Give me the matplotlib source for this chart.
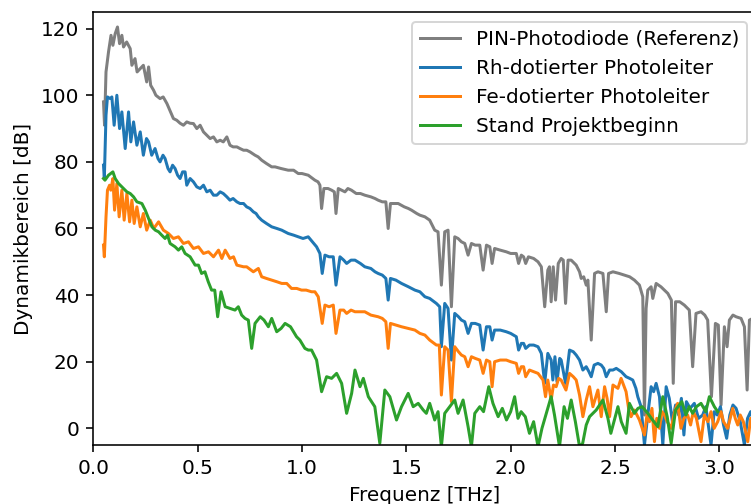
import matplotlib
matplotlib.use("Agg")
import matplotlib.pyplot as plt

# PIN-Photodiode (Referenz)
pin_freq = [0.049, 0.054, 0.061, 0.073, 0.085, 0.094, 0.105, 0.116, 0.126, 0.137,
            0.145, 0.16, 0.177, 0.185, 0.2, 0.21, 0.225, 0.24, 0.256, 0.265,
            0.275, 0.289, 0.30, 0.32, 0.335, 0.353, 0.37, 0.384, 0.40, 0.416,
            0.432, 0.448, 0.464, 0.48, 0.496, 0.512, 0.528, 0.544, 0.56, 0.576,
            0.592, 0.608, 0.623, 0.64, 0.655, 0.67, 0.688, 0.703, 0.72, 0.735,
            0.751, 0.775, 0.79, 0.807, 0.83, 0.855, 0.871, 0.9, 0.934, 0.96,
            0.982, 1.0, 1.03, 1.062, 1.077, 1.086, 1.094, 1.105, 1.125, 1.142,
            1.155, 1.163, 1.174, 1.19, 1.206, 1.22, 1.237, 1.26, 1.28, 1.301,
            1.33, 1.35, 1.365, 1.385, 1.402, 1.413, 1.424, 1.44, 1.461, 1.49,
            1.51, 1.525, 1.55, 1.565, 1.589, 1.612, 1.636, 1.652, 1.668, 1.684,
            1.700, 1.716, 1.732, 1.748, 1.764, 1.78, 1.796, 1.812, 1.83, 1.852,
            1.868, 1.884, 1.9, 1.911, 1.923, 1.95, 1.979, 2.0, 2.027, 2.038,
            2.051, 2.062, 2.072, 2.085, 2.11, 2.131, 2.147, 2.163, 2.178, 2.186,
            2.194, 2.204, 2.215, 2.228, 2.242, 2.252, 2.263, 2.275, 2.29, 2.314,
            2.33, 2.338, 2.35, 2.362, 2.37, 2.386, 2.402, 2.418, 2.442, 2.458,
            2.469, 2.49, 2.52, 2.545, 2.57, 2.593, 2.617, 2.633, 2.641, 2.649,
            2.657, 2.673, 2.681, 2.697, 2.72, 2.753, 2.77, 2.779, 2.79, 2.81,
            2.832, 2.856, 2.872, 2.888, 2.912, 2.93, 2.944, 2.962, 2.981, 2.995,
            3.008, 3.024, 3.037, 3.048, 3.065, 3.08, 3.104, 3.12, 3.133, 3.144,
            3.16, 3.175]
pin_db = [98, 91, 107, 113, 118, 115, 118.5, 120.5, 115.5, 118,
          114.5, 116, 114, 109, 111, 107, 108, 109, 104, 108.5,
          103, 101.5, 100, 99, 99.5, 97.5, 95, 93, 92.5, 91.6,
          91, 92, 91.6, 91.5, 90, 91, 89, 88, 87, 87.5,
          86, 86.5, 86, 87.5, 85, 84.5, 84.5, 84, 83.5, 83.5,
          83, 82, 81.5, 80.5, 79.5, 78.5, 78.5, 78, 77.5, 77.5,
          76.5, 76.5, 76, 74.5, 74, 73, 66, 72, 72, 71.5,
          71, 64.5, 72, 71.5, 71, 72, 71.5, 70.5, 70.5, 70,
          69.5, 69, 68.5, 68, 68, 60, 67.5, 67.5, 67.5, 66.5,
          66, 65.5, 64.5, 64, 63.5, 62.5, 59.5, 59, 43, 59,
          59.5, 36.5, 57.5, 57, 56, 55.5, 52, 55.5, 55, 55,
          47.5, 55, 54.5, 49.5, 54, 53.5, 53, 52.5, 52.5, 49.5,
          52, 51.5, 49.5, 51.5, 51, 50, 48.5, 36.5, 47.5, 48.5,
          38, 48.5, 38.5, 49.5, 51, 50.5, 37.5, 50.5, 50.5, 49,
          47, 45, 45.5, 43, 44.5, 26.5, 46.5, 47, 46.5, 35,
          46.5, 47, 46.5, 46, 45.5, 44.5, 43, 39.5, 4, 36,
          41.5, 42.5, 39, 43.5, 42.5, 40.5, 38.5, 13.5, 38, 38,
          37, 35.5, 18.5, 34.5, 35, 34, 32.5, 9.5, 31.5, 31,
          7, 30.5, 24.5, 32.5, 34, 33.5, 33, 30.5, 11.5, 32.5,
          33, 32]

# Rh-dotierter Photoleiter
rh_freq = [0.049, 0.053, 0.061, 0.068, 0.081, 0.089, 0.1, 0.113, 0.126, 0.137,
           0.153, 0.169, 0.18, 0.193, 0.209, 0.225, 0.24, 0.255, 0.265, 0.28,
           0.296, 0.31, 0.32, 0.334, 0.344, 0.358, 0.368, 0.38, 0.392, 0.404,
           0.416, 0.428, 0.44, 0.448, 0.464, 0.48, 0.496, 0.512, 0.528, 0.544,
           0.56, 0.576, 0.592, 0.608, 0.623, 0.64, 0.655, 0.67, 0.688, 0.703,
           0.72, 0.735, 0.751, 0.767, 0.78, 0.791, 0.807, 0.83, 0.855, 0.88,
           0.903, 0.934, 0.96, 0.982, 1.005, 1.03, 1.05, 1.07, 1.086, 1.097,
           1.11, 1.13, 1.15, 1.163, 1.182, 1.2, 1.214, 1.235, 1.254, 1.28,
           1.301, 1.33, 1.35, 1.365, 1.385, 1.402, 1.413, 1.424, 1.45, 1.477,
           1.51, 1.541, 1.565, 1.589, 1.612, 1.644, 1.66, 1.668, 1.684, 1.700,
           1.716, 1.732, 1.75, 1.764, 1.78, 1.796, 1.812, 1.83, 1.852, 1.868,
           1.884, 1.9, 1.911, 1.923, 1.95, 1.979, 2.0, 2.027, 2.038, 2.051,
           2.062, 2.072, 2.09, 2.11, 2.131, 2.147, 2.163, 2.178, 2.194, 2.202,
           2.212, 2.222, 2.235, 2.242, 2.263, 2.282, 2.3, 2.314, 2.33, 2.346,
           2.362, 2.375, 2.386, 2.4, 2.418, 2.434, 2.446, 2.458, 2.474, 2.49,
           2.506, 2.53, 2.553, 2.57, 2.585, 2.6, 2.609, 2.625, 2.641, 2.657,
           2.673, 2.685, 2.697, 2.713, 2.729, 2.745, 2.76, 2.775, 2.79, 2.805,
           2.818, 2.83, 2.842, 2.86, 2.88, 2.9, 2.92, 2.935, 2.96, 2.975,
           2.99, 3.005, 3.02, 3.035, 3.05, 3.065, 3.08, 3.1, 3.12, 3.135,
           3.15, 3.17]
rh_db = [79, 75, 94, 99.5, 99, 99.5, 91, 100, 90, 95,
         84, 95, 86, 92, 85, 89, 82, 87, 86, 82,
         84, 81, 80, 82, 81, 78, 77, 79, 78, 76,
         75, 77, 77, 73, 75, 74, 72.5, 72, 73, 71,
         71.5, 70, 70, 71, 70.5, 69.5, 68.5, 69, 68, 67.5,
         67.5, 66.5, 66, 65, 64.5, 63.5, 62.5, 61.5, 60.5, 60,
         59.5, 58.5, 58, 57.5, 57, 57.5, 56, 54.5, 52.5, 46.5,
         52, 51.5, 51.5, 43, 51.5, 50.5, 49.5, 50.5, 50.5, 49.5,
         48.5, 48, 47, 46.5, 46, 45, 38.5, 45, 44.5, 43.5,
         42.5, 41.5, 41, 39.5, 39, 37.5, 36.5, 24.5, 37.5, 36,
         20.5, 34.5, 33.5, 32.5, 32, 28.5, 31.5, 31.5, 31, 23.5,
         30.5, 30.5, 26.5, 29.5, 29.5, 29, 28.5, 27.5, 23.5, 25.5,
         25.5, 24, 25, 25, 24.5, 22.5, 13.5, 22.5, 20.5, 14.5,
         21.5, 14, 21, 20.5, 13.5, 23.5, 23, 22, 20.5, 17.5,
         18.5, 17, 15.5, 19, 19.5, 19, 18, 15.5, 17.5, 17.5,
         18, 17, 15.5, 15, 14.5, 12, 9.5, 6.5, -5, 4,
         12.5, 11, 13.5, 9.5, -5, 12.5, 9, 2, 7, 4,
         9, -2, 8, 6, 7.5, 3, 4, 6.5, -5, 5,
         4, 6.5, 1, -3, 4, 7, 6, 2, -5, 3,
         5, 1]

# Fe-dotierter Photoleiter
fe_freq = [0.049, 0.053, 0.061, 0.068, 0.078, 0.084, 0.094, 0.102, 0.113, 0.124,
           0.137, 0.148, 0.161, 0.174, 0.185, 0.196, 0.209, 0.225, 0.24, 0.256,
           0.273, 0.29, 0.313, 0.336, 0.36, 0.384, 0.408, 0.432, 0.456, 0.48,
           0.504, 0.528, 0.552, 0.576, 0.6, 0.616, 0.632, 0.655, 0.672, 0.688,
           0.72, 0.735, 0.767, 0.791, 0.807, 0.83, 0.855, 0.88, 0.903, 0.927,
           0.95, 0.975, 0.998, 1.02, 1.046, 1.062, 1.078, 1.097, 1.11, 1.13,
           1.15, 1.163, 1.182, 1.2, 1.214, 1.235, 1.254, 1.28, 1.301, 1.33,
           1.365, 1.385, 1.402, 1.413, 1.424, 1.45, 1.477, 1.51, 1.541, 1.565,
           1.589, 1.612, 1.644, 1.658, 1.668, 1.684, 1.700, 1.716, 1.732, 1.75,
           1.764, 1.78, 1.796, 1.812, 1.83, 1.852, 1.868, 1.884, 1.9, 1.911,
           1.923, 1.95, 1.979, 2.0, 2.027, 2.038, 2.051, 2.062, 2.072, 2.09,
           2.11, 2.131, 2.155, 2.167, 2.178, 2.194, 2.205, 2.218, 2.23, 2.242,
           2.265, 2.282, 2.3, 2.314, 2.33, 2.346, 2.362, 2.378, 2.394, 2.418,
           2.434, 2.45, 2.462, 2.474, 2.49, 2.514, 2.529, 2.553, 2.565, 2.577,
           2.593, 2.605, 2.617, 2.641, 2.653, 2.665, 2.677, 2.689, 2.7, 2.713,
           2.725, 2.737, 2.75, 2.769, 2.785, 2.8, 2.816, 2.83, 2.848, 2.862,
           2.875, 2.89, 2.912, 2.928, 2.945, 2.96, 2.975, 2.992, 3.008, 3.02,
           3.04, 3.052, 3.064, 3.076, 3.088, 3.1, 3.115, 3.136, 3.15, 3.17]
fe_db = [55, 51.5, 63.5, 71.5, 73, 71.5, 75, 65.5, 73.5, 63.5,
         71.5, 62.5, 70.5, 62, 68.5, 61.5, 66.5, 60.5, 64.5, 59.5,
         62.5, 60, 62, 59.5, 58.5, 57, 57.5, 55.5, 56, 54,
         54.5, 52.5, 53, 51.5, 53.5, 51, 53.5, 51, 51.5, 49,
         48.5, 48.5, 47, 48, 45.5, 45, 44.5, 44, 43.5, 43.5,
         42, 42, 41.5, 41.5, 41, 41, 39.5, 31.5, 37, 36.5,
         37, 28.5, 35.5, 35.5, 34.5, 35.5, 35, 35, 35, 34,
         33.5, 33, 32, 24, 31.5, 31, 30.5, 30, 29.5, 28.5,
         28, 26.5, 25, 25, 10, 24.5, 23.5, 8, 24.5, 23,
         22, 21.5, 18.5, 21.5, 21, 20.5, 16.5, 20.5, 20, 12.5,
         20, 20.5, 20.5, 20, 19.5, 16.5, 18.5, 18.5, 15.5, 17.5,
         17, 16.5, 14.5, 9.5, 14.5, 8.5, 13, 12.5, 15, 14.5,
         11.5, 16.5, 15.5, 14.5, 10, 3.5, 8.5, 12.5, 6.5, 11.5,
         3.5, 12.5, 9, 3.5, 13, 12, 15, 11, 6, 3.5,
         5.5, 4, 2.5, -2, 4, 2, 6, -4, 3, 0,
         5, 4, 2, 0, 5, 7.5, 0, 3, 4, 1,
         5, 3, -4, 4, 2, 5, 0, 2, 5, 2,
         0, 3, 6, 3, 1, 4, 2, -4, 3, 1]

# Stand Projektbeginn
st_freq = [0.049, 0.056, 0.073, 0.094, 0.105, 0.121, 0.145, 0.161, 0.177, 0.193,
           0.209, 0.233, 0.249, 0.265, 0.281, 0.297, 0.313, 0.328, 0.344, 0.356,
           0.368, 0.392, 0.408, 0.424, 0.44, 0.464, 0.488, 0.504, 0.519, 0.535,
           0.551, 0.567, 0.582, 0.596, 0.612, 0.632, 0.655, 0.679, 0.695, 0.711,
           0.727, 0.743, 0.759, 0.775, 0.8, 0.818, 0.839, 0.855, 0.879, 0.9,
           0.919, 0.945, 0.974, 0.99, 1.014, 1.03, 1.046, 1.07, 1.094, 1.118,
           1.142, 1.166, 1.19, 1.214, 1.238, 1.254, 1.278, 1.294, 1.318, 1.349,
           1.373, 1.397, 1.421, 1.453, 1.477, 1.509, 1.533, 1.557, 1.581, 1.596,
           1.612, 1.636, 1.652, 1.668, 1.684, 1.708, 1.732, 1.748, 1.772, 1.796,
           1.812, 1.828, 1.852, 1.87, 1.895, 1.915, 1.94, 1.96, 1.98, 2.0,
           2.019, 2.035, 2.05, 2.07, 2.09, 2.11, 2.131, 2.15, 2.18, 2.194,
           2.21, 2.234, 2.256, 2.272, 2.29, 2.31, 2.33, 2.345, 2.362, 2.378,
           2.41, 2.442, 2.466, 2.48, 2.514, 2.53, 2.553, 2.569, 2.593, 2.61,
           2.63, 2.657, 2.68, 2.705, 2.729, 2.75, 2.769, 2.79, 2.82, 2.84,
           2.855, 2.872, 2.89, 2.912, 2.935, 2.952, 2.976, 2.992]
st_db = [75, 74.5, 76, 77, 75, 73.5, 72, 71, 70.5, 69.5,
         68, 67.5, 65.5, 63, 60.5, 59.5, 59, 58, 57, 58,
         55.5, 54.5, 53.5, 54.5, 52.5, 51.5, 49, 49, 46.5, 47,
         44, 41.5, 41.5, 33.5, 41, 36.5, 36, 35.5, 36.5, 34,
         33, 32.5, 24, 31.5, 33.5, 32.5, 30.5, 33, 29, 30,
         31.5, 30.5, 27.5, 26.5, 24, 23.5, 23.5, 20.5, 11, 15.5,
         15, 16.5, 13.5, 4.5, 10.5, 17.5, 12.5, 15, 9.5, 6.5,
         -4.5, 11.5, 9.5, 2.5, 6.5, 10.5, 6.5, 7.5, 5.5, 4.5,
         7.5, 2.5, 5, -5.5, 4.5, 6.5, 8.5, 4.5, 8.5, 0.5,
         -5.5, 4.5, 6.5, 5, 12.5, 7.5, 3.5, 6, 2.5, 5,
         9.5, 3, 5, 3.5, -1.5, 2, -5.5, 0, 6.5, 9.5,
         4, -5.5, 6.5, 3, 8.5, 2, -5.5, -4.5, 1, 3.5,
         5.5, 8.5, 3, -1.5, 6.5, 2, -1.5, 7.5, 4.5, 6,
         6.5, 4.5, 2.5, 0.5, 9.5, 3.5, -4.5, 5.5, 8, 4,
         6.5, 4.5, 6.5, 7.5, 5, 9.5, 6.5, 5]


def main():
    """
    Draw the dynamic range of the four emitters over frequency
    """
    fig = plt.figure(figsize=(751 / 144, 504 / 144), dpi=144)
    ax = fig.add_axes([0.1242, 0.1171, 0.8837, 0.8591])

    ax.plot(pin_freq, pin_db, color="tab:gray", label="PIN-Photodiode (Referenz)")
    ax.plot(rh_freq, rh_db, color="tab:blue", label="Rh-dotierter Photoleiter")
    ax.plot(fe_freq, fe_db, color="tab:orange", label="Fe-dotierter Photoleiter")
    ax.plot(st_freq, st_db, color="tab:green", label="Stand Projektbeginn")

    ax.set_xlim(0, 3.18)
    ax.set_ylim(-5, 125)
    ax.set_xticks([0.0, 0.5, 1.0, 1.5, 2.0, 2.5, 3.0])
    ax.set_yticks([0, 20, 40, 60, 80, 100, 120])
    ax.set_xlabel("Frequenz [THz]")
    ax.set_ylabel("Dynamikbereich [dB]")
    ax.legend(loc="upper right")

    fig.savefig("out.png", dpi=144)


if __name__ == "__main__":
    main()
